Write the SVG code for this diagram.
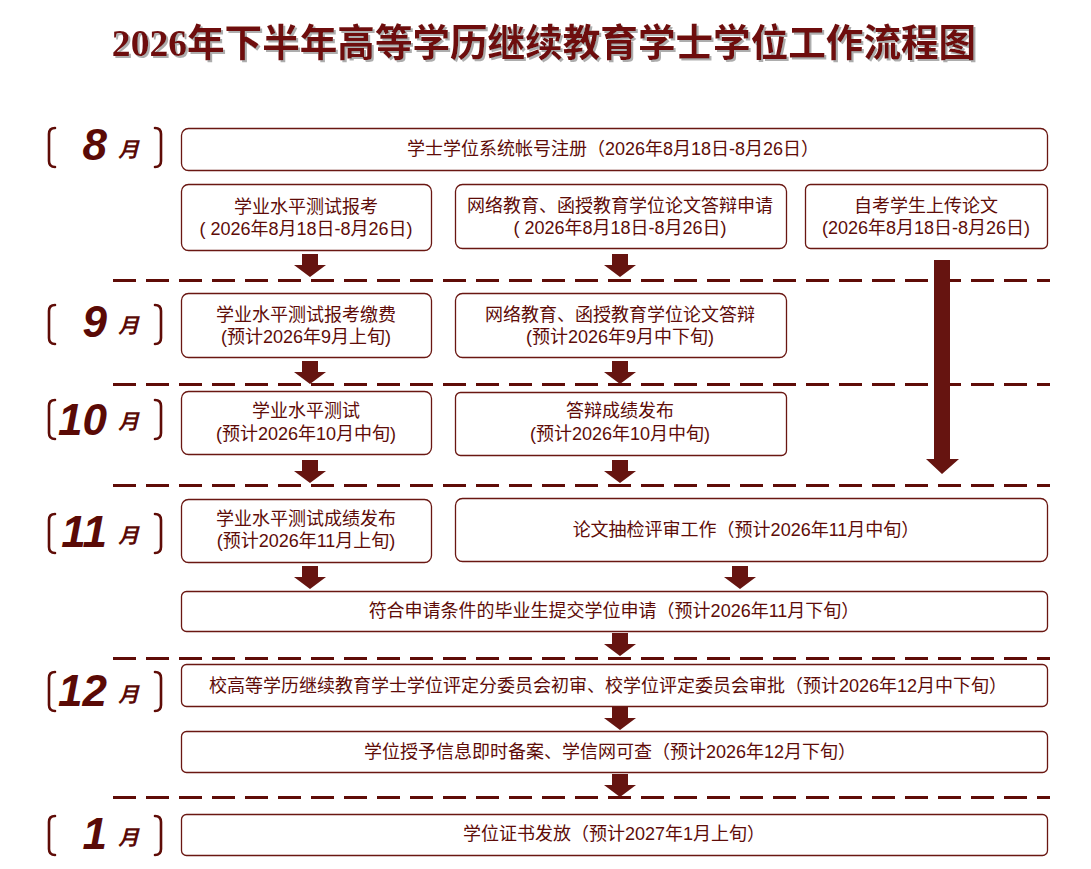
<svg xmlns="http://www.w3.org/2000/svg" width="1091" height="869" viewBox="0 0 1091 869">
<defs>
<style>
.title{font-family:"Liberation Serif","Noto Sans CJK SC",serif;font-weight:bold;font-size:37.6px;fill:#6e0f0b;}
.box{fill:#fff;stroke:#6a1712;stroke-width:1.3;}
.t{font-family:"Liberation Sans","Noto Sans CJK SC","Noto Sans CJK JP",sans-serif;font-size:18px;fill:#5e0c08;text-anchor:middle;}
.dash{stroke:#5f0c07;stroke-width:3;stroke-dasharray:23 10;fill:none;}
.arr{fill:#661410;}
.brk{fill:none;stroke:#5f0c07;stroke-width:2.6;stroke-linecap:round;}
.num{font-family:"Liberation Sans","DejaVu Sans",sans-serif;font-weight:bold;font-style:italic;font-size:44px;fill:#5a0a06;text-anchor:end;}
.mon{font-family:"Noto Sans CJK SC",sans-serif;font-weight:bold;font-style:italic;font-size:21px;fill:#5a0a06;}
</style>
<filter id="sh" x="-5%" y="-20%" width="110%" height="140%">
<feDropShadow dx="2" dy="2" stdDeviation="0.6" flood-color="#999" flood-opacity="0.8"/>
</filter>
<path id="ar" d="M-8,-23 H8 V-12 H16 L0,0 L-16,-12 H-8 Z"/>
<path id="bl" d="M55,0 Q49,0 49,6 V33 Q49,39 55,39"/>
<path id="br" d="M155,0 Q161,0 161,6 V33 Q161,39 155,39"/>
</defs>

<text class="title" x="544" y="56" text-anchor="middle" filter="url(#sh)">2026年下半年高等学历继续教育学士学位工作流程图</text>

<g id="months">
<g id="m8"><use href="#bl" class="brk" y="128"/><use href="#br" class="brk" y="128"/><text class="num" x="107" y="160">8</text><text class="mon" x="118" y="157">月</text></g>
<g id="m9"><use href="#bl" class="brk" y="305"/><use href="#br" class="brk" y="305"/><text class="num" x="107" y="337">9</text><text class="mon" x="118" y="333">月</text></g>
<g id="m10"><use href="#bl" class="brk" y="400"/><use href="#br" class="brk" y="400"/><text class="num" x="107" y="435">10</text><text class="mon" x="118" y="429">月</text></g>
<g id="m11"><use href="#bl" class="brk" y="514"/><use href="#br" class="brk" y="514"/><text class="num" x="107" y="547">11</text><text class="mon" x="118" y="543">月</text></g>
<g id="m12"><use href="#bl" class="brk" y="672"/><use href="#br" class="brk" y="672"/><text class="num" x="107" y="706">12</text><text class="mon" x="118" y="702">月</text></g>
<g id="m1"><use href="#bl" class="brk" y="816"/><use href="#br" class="brk" y="816"/><text class="num" x="107" y="849">1</text><text class="mon" x="118" y="845">月</text></g>
</g>

<g id="dividers">
<line class="dash" x1="113" y1="280.5" x2="1050" y2="280.5"/>
<line class="dash" x1="113" y1="384.5" x2="1050" y2="384.5"/>
<line class="dash" x1="113" y1="485.5" x2="1050" y2="485.5"/>
<line class="dash" x1="113" y1="658.5" x2="1050" y2="658.5"/>
<line class="dash" x1="113" y1="797.5" x2="1050" y2="797.5"/>
</g>

<g id="n1"><rect class="box" x="181.5" y="128.5" width="866" height="42" rx="7"/><text class="t" x="613" y="155">学士学位系统帐号注册（2026年8月18日-8月26日）</text></g>

<g id="n2a"><rect class="box" x="181.5" y="184.5" width="250" height="66" rx="7"/><text class="t" y="213"><tspan x="306">学业水平测试报考</tspan><tspan x="306" dy="22">( 2026年8月18日-8月26日)</tspan></text></g>
<g id="n2b"><rect class="box" x="455.5" y="184.5" width="331" height="64" rx="7"/><text class="t" y="212"><tspan x="620">网络教育、函授教育学位论文答辩申请</tspan><tspan x="620" dy="22">( 2026年8月18日-8月26日)</tspan></text></g>
<g id="n2c"><rect class="box" x="805.5" y="184.5" width="242" height="64" rx="5"/><text class="t" y="212"><tspan x="926">自考学生上传论文</tspan><tspan x="926" dy="22">(2026年8月18日-8月26日)</tspan></text></g>

<g id="n3a"><rect class="box" x="181.5" y="293.5" width="250" height="64" rx="7"/><text class="t" y="321"><tspan x="306">学业水平测试报考缴费</tspan><tspan x="306" dy="22">(预计2026年9月上旬)</tspan></text></g>
<g id="n3b"><rect class="box" x="455.5" y="293.5" width="331" height="64" rx="7"/><text class="t" y="321"><tspan x="620">网络教育、函授教育学位论文答辩</tspan><tspan x="620" dy="22">(预计2026年9月中下旬)</tspan></text></g>

<g id="n4a"><rect class="box" x="181.5" y="391.5" width="250" height="63" rx="7"/><text class="t" y="417"><tspan x="306">学业水平测试</tspan><tspan x="306" dy="23">(预计2026年10月中旬)</tspan></text></g>
<g id="n4b"><rect class="box" x="455.5" y="392.5" width="331" height="63" rx="5"/><text class="t" y="417"><tspan x="620">答辩成绩发布</tspan><tspan x="620" dy="23">(预计2026年10月中旬)</tspan></text></g>

<g id="n5a"><rect class="box" x="181.5" y="499.5" width="250" height="63" rx="7"/><text class="t" y="525"><tspan x="306">学业水平测试成绩发布</tspan><tspan x="306" dy="22">(预计2026年11月上旬)</tspan></text></g>
<g id="n5b"><rect class="box" x="455.5" y="498.5" width="592" height="63" rx="7"/><text class="t" x="746" y="536">论文抽检评审工作（预计2026年11月中旬）</text></g>

<g id="n6"><rect class="box" x="181.5" y="591.5" width="866" height="40" rx="5"/><text class="t" x="614" y="617">符合申请条件的毕业生提交学位申请（预计2026年11月下旬）</text></g>
<g id="n7"><rect class="box" x="181.5" y="664.5" width="866" height="42" rx="5"/><text class="t" x="608" y="692">校高等学历继续教育学士学位评定分委员会初审、校学位评定委员会审批（预计2026年12月中下旬）</text></g>
<g id="n8"><rect class="box" x="181.5" y="731.5" width="866" height="41" rx="5"/><text class="t" x="610" y="758">学位授予信息即时备案、学信网可查（预计2026年12月下旬）</text></g>
<g id="n9"><rect class="box" x="181.5" y="814.5" width="866" height="41" rx="5"/><text class="t" x="614" y="840">学位证书发放（预计2027年1月上旬）</text></g>

<g id="connectors">
<use href="#ar" class="arr" x="310" y="277"/>
<use href="#ar" class="arr" x="620" y="277"/>
<use href="#ar" class="arr" x="310" y="384"/>
<use href="#ar" class="arr" x="620" y="384"/>
<use href="#ar" class="arr" x="310" y="483"/>
<use href="#ar" class="arr" x="620" y="483"/>
<use href="#ar" class="arr" x="310" y="589"/>
<use href="#ar" class="arr" x="740" y="589"/>
<use href="#ar" class="arr" x="620" y="656"/>
<use href="#ar" class="arr" x="620" y="730"/>
<use href="#ar" class="arr" x="620" y="797"/>
<path class="arr" d="M934,260 H950 V459 H959 L942,474 L926,459 H934 Z"/>
</g>
</svg>
